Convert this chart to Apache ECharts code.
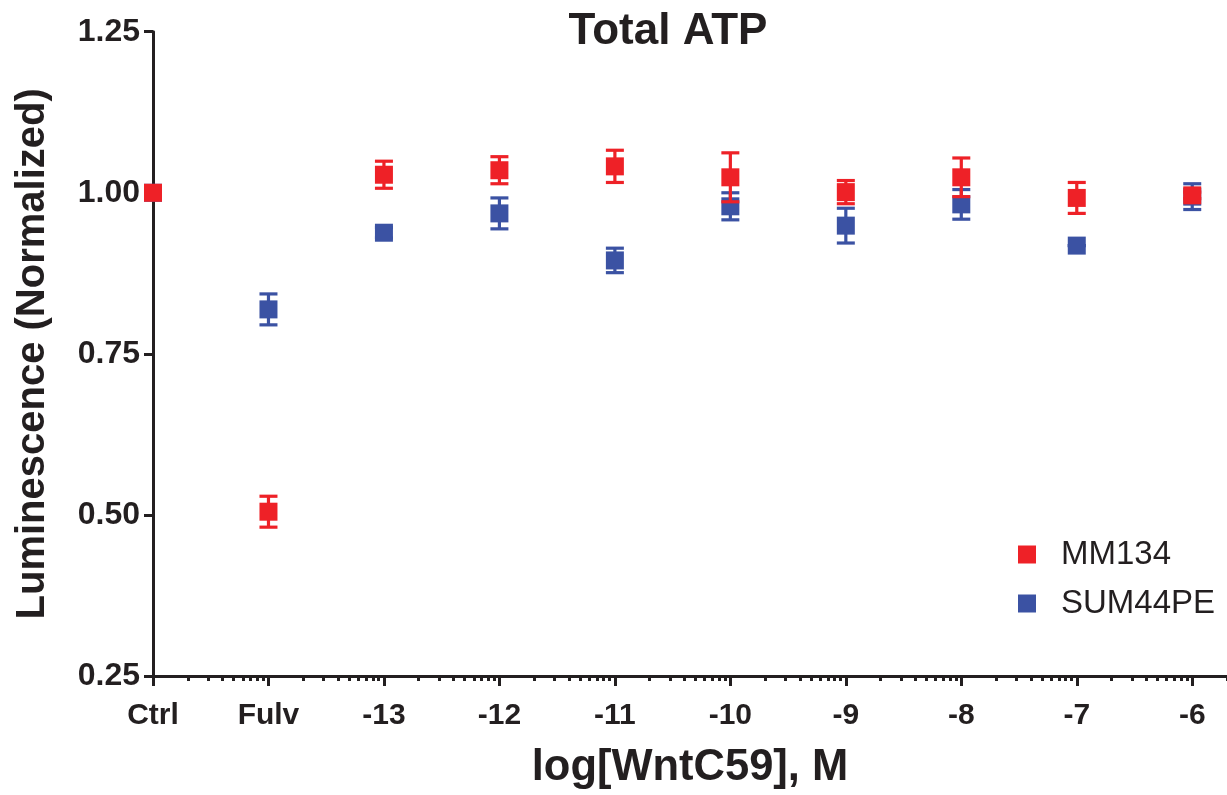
<!DOCTYPE html>
<html>
<head>
<meta charset="utf-8">
<script src="https://cdn.jsdelivr.net/npm/echarts@6/dist/echarts.min.js"></script>
<style>
html,body{margin:0;padding:0;background:#fff;}
#chart{width:1227px;height:795px;}
</style>
</head>
<body>
<div id="chart"></div>
<script>
// ---- data ----
const categories = ['Ctrl', 'Fulv', '-13', '-12', '-11', '-10', '-9', '-8', '-7', '-6'];
const xPos = [-15, -14, -13, -12, -11, -10, -9, -8, -7, -6];
const mm134 = [1.000, 0.505, 1.028, 1.035, 1.041, 1.024, 1.001, 1.024, 0.992, 0.996];
const mm134Err = [0, 0.024, 0.021, 0.021, 0.025, 0.038, 0.018, 0.030, 0.024, 0.005];
const sum44 = [1.000, 0.819, 0.938, 0.968, 0.895, 0.979, 0.949, 0.982, 0.918, 0.994];
const sum44Err = [0, 0.024, 0.008, 0.024, 0.019, 0.021, 0.027, 0.023, 0, 0.020];
const yTicks = [0.25, 0.50, 0.75, 1.00, 1.25];

const RED = '#EE2127';
const BLUE = '#3B52A3';
const INK = '#231F20';
const xMin = -15, xMax = -6 + Math.log10(2);

// minor (log) ticks
const minorTicks = [];
for (let d = -15; d <= -6; d++) {
  for (let k = 2; k <= 9; k++) {
    const v = d + Math.log10(k);
    if (v <= xMax + 1e-9) minorTicks.push(v);
  }
}

function errSeries(name, vals, errs, color, z) {
  return {
    type: 'custom',
    name: name + ' err',
    z: z,
    silent: true,
    data: xPos.map((x, i) => [x, vals[i] - errs[i], vals[i] + errs[i]]),
    encode: { x: 0, y: [1, 2] },
    renderItem: function (params, api) {
      const x = api.value(0), lo = api.value(1), hi = api.value(2);
      const a = api.coord([x, lo]), b = api.coord([x, hi]);
      const hw = 9;
      const st = { stroke: color, lineWidth: 3.2 };
      return {
        type: 'group',
        children: [
          { type: 'line', shape: { x1: a[0], y1: a[1], x2: b[0], y2: b[1] }, style: st },
          { type: 'line', shape: { x1: a[0] - hw, y1: a[1], x2: a[0] + hw, y2: a[1] }, style: st },
          { type: 'line', shape: { x1: b[0] - hw, y1: b[1], x2: b[0] + hw, y2: b[1] }, style: st }
        ]
      };
    }
  };
}

function ptSeries(name, vals, color, z) {
  return {
    type: 'scatter',
    name: name,
    z: z,
    symbol: 'rect',
    symbolSize: 18,
    itemStyle: { color: color, opacity: 1 },
    data: xPos.map((x, i) => [x, vals[i]])
  };
}

const chart = echarts.init(document.getElementById('chart'), null, { renderer: 'canvas' });
chart.setOption({
  backgroundColor: '#fff',
  animation: false,
  title: {
    text: 'Total ATP',
    left: 663, top: 5,
    textAlign: 'center',
    textStyle: { fontFamily: 'Liberation Sans, Arial', fontWeight: 'bold', fontSize: 44, color: INK }
  },
  legend: {
    orient: 'vertical',
    left: 1013, top: 533,
    itemWidth: 18, itemHeight: 18,
    itemGap: 16,
    icon: 'rect',
    data: ['MM134', 'SUM44PE'],
    textStyle: { fontFamily: 'Liberation Sans, Arial', fontSize: 33, color: INK, padding: [0, 0, 0, 20] }
  },
  grid: { left: 153, right: 0, top: 31.7, bottom: 115.5, containLabel: false },
  xAxis: [{
    type: 'value',
    min: xMin, max: xMax,
    name: 'log[WntC59], M',
    nameLocation: 'middle',
    nameGap: 70,
    nameTextStyle: { fontFamily: 'Liberation Sans, Arial', fontWeight: 'bold', fontSize: 43.5, color: INK },
    axisLine: { show: true, onZero: false, lineStyle: { color: INK, width: 3 } },
    axisTick: { show: true, length: 10, customValues: xPos, lineStyle: { color: INK, width: 3 } },
    axisLabel: {
      show: true, customValues: xPos, margin: 25,
      fontFamily: 'Liberation Sans, Arial', fontWeight: 'bold', fontSize: 30, color: INK,
      formatter: function (v) {
        const i = xPos.findIndex(p => Math.abs(p - v) < 1e-6);
        return i >= 0 ? categories[i] : '';
      }
    },
    splitLine: { show: false }
  }, {
    type: 'value',
    min: xMin, max: xMax,
    position: 'bottom',
    axisLine: { show: false, onZero: false },
    axisTick: { show: true, length: 5, customValues: minorTicks, lineStyle: { color: INK, width: 3 } },
    axisLabel: { show: false },
    splitLine: { show: false }
  }],
  yAxis: {
    type: 'value',
    min: 0.25, max: 1.25, interval: 0.25,
    name: 'Luminescence (Normalized)',
    nameLocation: 'middle',
    nameGap: 100,
    nameTextStyle: { fontFamily: 'Liberation Sans, Arial', fontWeight: 'bold', fontSize: 40, color: INK },
    axisLine: { show: true, lineStyle: { color: INK, width: 3 } },
    axisTick: { show: true, length: 9, lineStyle: { color: INK, width: 3 } },
    axisLabel: {
      margin: 13,
      fontFamily: 'Liberation Sans, Arial', fontWeight: 'bold', fontSize: 32, color: INK,
      formatter: v => v.toFixed(2)
    },
    splitLine: { show: false }
  },
  series: [
    errSeries('SUM44PE', sum44, sum44Err, BLUE, 2),
    ptSeries('SUM44PE', sum44, BLUE, 3),
    errSeries('MM134', mm134, mm134Err, RED, 4),
    ptSeries('MM134', mm134, RED, 5)
  ]
});
</script>
</body>
</html>
